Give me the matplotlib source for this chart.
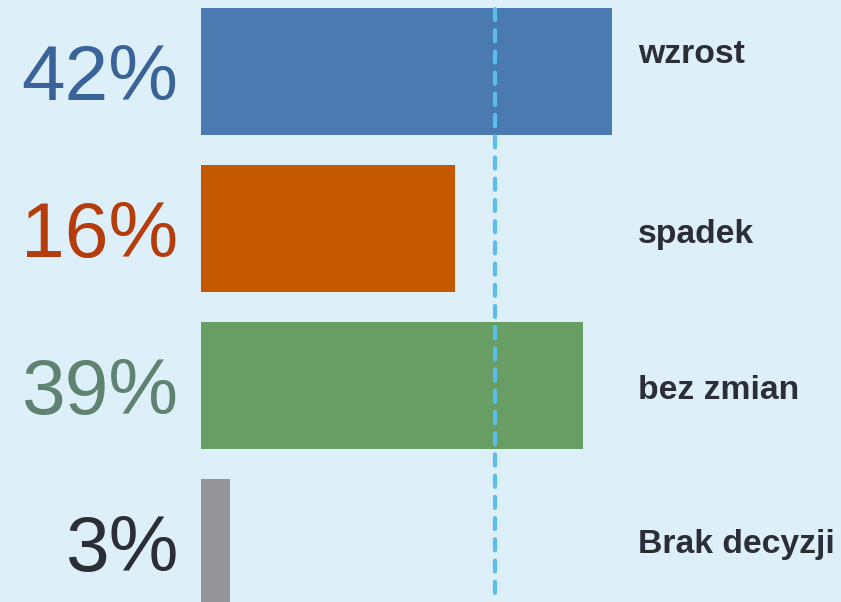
import matplotlib
matplotlib.use("Agg")
import matplotlib.pyplot as plt
from matplotlib import transforms

# ---- data ----
categories = ["wzrost", "spadek", "bez zmian", "Brak decyzji"]
bar_values = [42, 26, 39, 3]
pct_labels = ["42%", "16%", "39%", "3%"]
reference_value = 30

# ---- style ----
bar_colors = ["#4a7aaf", "#c45900", "#689e64", "#959498"]
pct_colors = ["#3a6399", "#b53d0b", "#5e8371", "#2b2e36"]
cat_color = "#2b2e36"
bg = "#ddf0f9"
line_color = "#5bbdec"
cat_dy_px = [-21, 2, 1, -2]

W, H, DPI = 841, 602, 100
px_per_unit = 9.786
bar_left_px = 201
pitch_px = 157
first_center_px = 71.5
bar_h = 127.5 / pitch_px

fig = plt.figure(figsize=(W / DPI, H / DPI), dpi=DPI, facecolor=bg)
ax = fig.add_axes([0, 0, 1, 1])
ax.set_facecolor(bg)
ax.set_xlim(-bar_left_px / px_per_unit, (W - bar_left_px) / px_per_unit)
ax.set_ylim((H - first_center_px) / pitch_px, -first_center_px / pitch_px)
ax.axis("off")

ys = list(range(len(categories)))
ax.barh(ys, bar_values, height=bar_h, color=bar_colors, zorder=2)

# dashed reference line
ax.plot([reference_value, reference_value], [-0.40, 3.345], color=line_color,
        lw=3.0, linestyle=(0, (2.67, 2.42)), dash_capstyle="round", zorder=3)

pct_size = 56.5
cat_size = 24.3
cap = 0.716

pct_x = (178 - bar_left_px) / px_per_unit
cat_x = (638 - bar_left_px) / px_per_unit

for i, y in enumerate(ys):
    off = transforms.offset_copy(ax.transData, fig=fig, x=0,
                                 y=-cap * pct_size / 2, units="points")
    ax.text(pct_x, y, pct_labels[i], transform=off, ha="right", va="baseline",
            fontsize=pct_size, color=pct_colors[i], family="Liberation Sans")
    off2 = transforms.offset_copy(ax.transData, fig=fig, x=0,
                                  y=-cap * cat_size / 2 - cat_dy_px[i] * 72 / DPI,
                                  units="points")
    ax.text(cat_x, y, categories[i], transform=off2, ha="left", va="baseline",
            fontsize=cat_size, color=cat_color, fontweight="bold",
            family="Liberation Sans")

fig.savefig("out.png", dpi=DPI, facecolor=bg)
